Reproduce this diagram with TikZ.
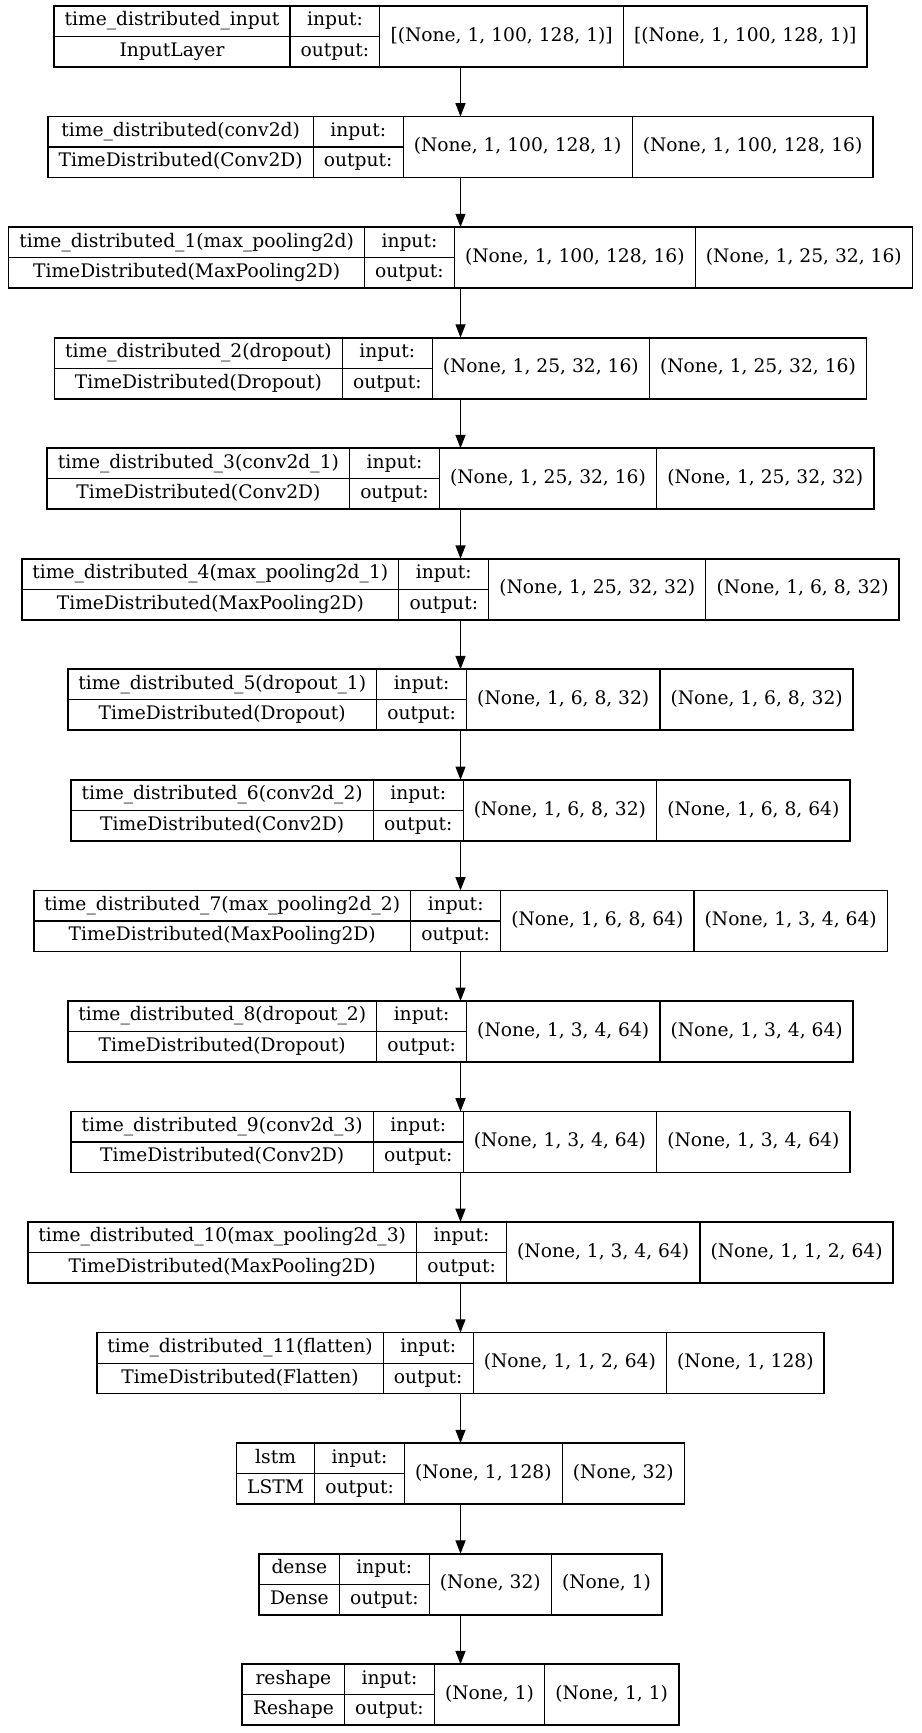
\documentclass[tikz,border=0pt]{standalone}
\usepackage{fontspec}
\setmainfont{DejaVu Serif}
\usetikzlibrary{arrows.meta}

% type used in every record cell
\newcommand\recfont{\normalfont\fontsize{14pt}{16.8pt}\selectfont}

% scratch registers for the column widths of one layer record
\newdimen\colA
\newdimen\colB
\newdimen\colC
\newdimen\colD
\newdimen\colT
\newdimen\tmpw
\newbox\measurebox

% #1 dimen register, #2 text: natural width of #2 in the record type
\newcommand\measuretext[2]{%
  \pgfinterruptpicture
    \global\setbox\measurebox=\hbox{\recfont #2}%
  \endpgfinterruptpicture
  #1=\wd\measurebox\relax
}

\tikzset{
  recbox/.style={draw=none, inner sep=0pt, outer sep=0pt, minimum height=45.75pt},
  halfcell/.style={draw=black, line width=0.9pt, inner xsep=0pt, inner ysep=0pt, outer sep=0pt,
    font=\recfont, minimum height=22.875pt, text height=10.2pt, text depth=3.2pt},
  fullcell/.style={draw=black, line width=0.9pt, inner xsep=0pt, inner ysep=0pt, outer sep=0pt,
    font=\recfont, minimum height=45.75pt, text height=10.2pt, text depth=3.2pt},
  rimline/.style={draw=black, line width=1.3pt},
  edge/.style={draw=black, line width=0.9pt, -{Triangle[length=10pt, width=7.5pt]}}
}

% #1 node name, #2 row index, #3 layer name, #4 class, #5 input shape, #6 output shape
\newcommand\layerrec[6]{%
  \measuretext\colA{#3}\measuretext\tmpw{#4}%
  \ifdim\tmpw>\colA\relax \colA=\tmpw\relax\fi
  \advance\colA by 16pt\relax
  \measuretext\colB{output:}\advance\colB by 16pt\relax
  \measuretext\colC{#5}\advance\colC by 16pt\relax
  \measuretext\colD{#6}\advance\colD by 16pt\relax
  \colT=\colA\relax
  \advance\colT by \colB\relax
  \advance\colT by \colC\relax
  \advance\colT by \colD\relax
  \edef\wA{\the\colA}\edef\wB{\the\colB}\edef\wC{\the\colC}%
  \edef\wD{\the\colD}\edef\wT{\the\colT}%
  \node[recbox, minimum width=\wT] (#1) at (345.375pt, {-(27.375+#2*82.9125)*1pt}) {};
  \node[halfcell, minimum width=\wA, anchor=north west] (#1-name) at (#1.north west) {#3};
  \node[halfcell, minimum width=\wA, anchor=south west] (#1-class) at (#1.south west) {#4};
  \node[halfcell, minimum width=\wB, anchor=north west] (#1-in) at (#1-name.north east) {input:};
  \node[halfcell, minimum width=\wB, anchor=south west] (#1-out) at (#1-class.south east) {output:};
  \node[fullcell, minimum width=\wC, anchor=north west] (#1-ishape) at (#1-in.north east) {#5};
  \node[fullcell, minimum width=\wD, anchor=north west] (#1-oshape) at (#1-ishape.north east) {#6};
  \draw[rimline] (#1.south west) rectangle (#1.north east);
}

\begin{document}
\begin{tikzpicture}
  \useasboundingbox (0pt,0pt) rectangle (690.75pt,-1299.75pt);
  \fill[white] (0pt,0pt) rectangle (690.75pt,-1299.75pt);

  \layerrec{l0}{0}{time\_distributed\_input}{InputLayer}{[(None, 1, 100, 128, 1)]}{[(None, 1, 100, 128, 1)]}
  \layerrec{l1}{1}{time\_distributed(conv2d)}{TimeDistributed(Conv2D)}{(None, 1, 100, 128, 1)}{(None, 1, 100, 128, 16)}
  \layerrec{l2}{2}{time\_distributed\_1(max\_pooling2d)}{TimeDistributed(MaxPooling2D)}{(None, 1, 100, 128, 16)}{(None, 1, 25, 32, 16)}
  \layerrec{l3}{3}{time\_distributed\_2(dropout)}{TimeDistributed(Dropout)}{(None, 1, 25, 32, 16)}{(None, 1, 25, 32, 16)}
  \layerrec{l4}{4}{time\_distributed\_3(conv2d\_1)}{TimeDistributed(Conv2D)}{(None, 1, 25, 32, 16)}{(None, 1, 25, 32, 32)}
  \layerrec{l5}{5}{time\_distributed\_4(max\_pooling2d\_1)}{TimeDistributed(MaxPooling2D)}{(None, 1, 25, 32, 32)}{(None, 1, 6, 8, 32)}
  \layerrec{l6}{6}{time\_distributed\_5(dropout\_1)}{TimeDistributed(Dropout)}{(None, 1, 6, 8, 32)}{(None, 1, 6, 8, 32)}
  \layerrec{l7}{7}{time\_distributed\_6(conv2d\_2)}{TimeDistributed(Conv2D)}{(None, 1, 6, 8, 32)}{(None, 1, 6, 8, 64)}
  \layerrec{l8}{8}{time\_distributed\_7(max\_pooling2d\_2)}{TimeDistributed(MaxPooling2D)}{(None, 1, 6, 8, 64)}{(None, 1, 3, 4, 64)}
  \layerrec{l9}{9}{time\_distributed\_8(dropout\_2)}{TimeDistributed(Dropout)}{(None, 1, 3, 4, 64)}{(None, 1, 3, 4, 64)}
  \layerrec{l10}{10}{time\_distributed\_9(conv2d\_3)}{TimeDistributed(Conv2D)}{(None, 1, 3, 4, 64)}{(None, 1, 3, 4, 64)}
  \layerrec{l11}{11}{time\_distributed\_10(max\_pooling2d\_3)}{TimeDistributed(MaxPooling2D)}{(None, 1, 3, 4, 64)}{(None, 1, 1, 2, 64)}
  \layerrec{l12}{12}{time\_distributed\_11(flatten)}{TimeDistributed(Flatten)}{(None, 1, 1, 2, 64)}{(None, 1, 128)}
  \layerrec{l13}{13}{lstm}{LSTM}{(None, 1, 128)}{(None, 32)}
  \layerrec{l14}{14}{dense}{Dense}{(None, 32)}{(None, 1)}
  \layerrec{l15}{15}{reshape}{Reshape}{(None, 1)}{(None, 1, 1)}

  % connectors between consecutive layers
  \foreach \a/\b in {l0/l1, l1/l2, l2/l3, l3/l4, l4/l5, l5/l6, l6/l7, l7/l8,
                     l8/l9, l9/l10, l10/l11, l11/l12, l12/l13, l13/l14, l14/l15}
    \draw[edge] (\a.south) -- (\b.north);
\end{tikzpicture}
\end{document}
